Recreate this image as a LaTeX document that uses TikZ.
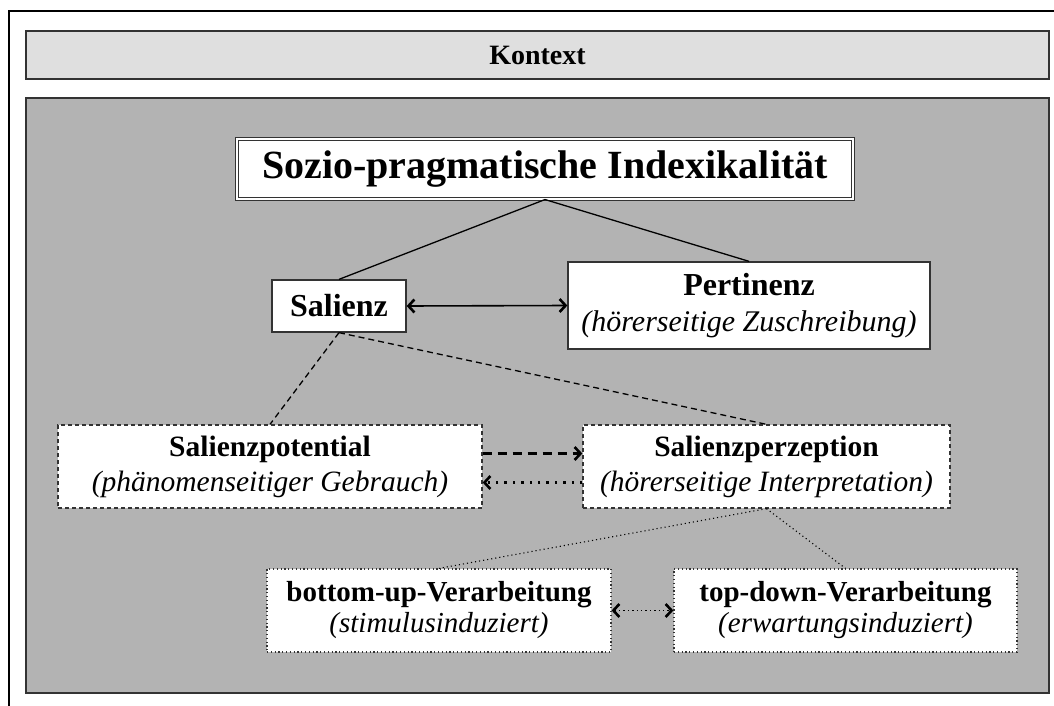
\documentclass[tikz,border=0pt]{standalone}
\usepackage{fontspec}
\setmainfont{Liberation Serif}
\usetikzlibrary{arrows.meta}
\definecolor{ctxgray}{HTML}{DFDFDF}
\definecolor{panelgray}{HTML}{B3B3B3}
\definecolor{edge}{HTML}{333333}
\tikzset{
  panel/.style={draw=edge, line width=1.5pt, inner sep=0pt},
  basebox/.style={fill=white, draw=edge, line width=1.3pt, inner sep=0pt, align=center},
  dashbox/.style={basebox, dash pattern=on 4pt off 3pt},
  dotbox/.style={basebox, line width=1.2pt, dash pattern=on 1.2pt off 2.6pt},
  solidlink/.style={line width=1.3pt},
  dashlink/.style={line width=1.3pt, dash pattern=on 6pt off 4pt},
  dotlink/.style={line width=1.1pt, dash pattern=on 1.1pt off 3pt},
  barb/.tip={Straight Barb[length=6pt,width=13pt,line width=2.6pt]},
  botharrow/.style={line width=1.6pt, barb-barb},
  dasharrow/.style={line width=2.2pt, dash pattern=on 9pt off 6pt, -barb},
  dotarrow/.style={line width=2.4pt, dash pattern=on 2.4pt off 6pt, -barb},
  smalldotarrow/.style={line width=1.4pt, dash pattern=on 1.4pt off 3pt, barb-barb},
  bigfont/.style={font=\fontsize{40}{44}\selectfont\bfseries},
  midfont/.style={font=\fontsize{32}{37}\selectfont},
  lowfont/.style={font=\fontsize{29.5}{35}\selectfont},
  botfont/.style={font=\fontsize{29}{31}\selectfont}
}
\begin{document}
\begin{tikzpicture}[x=1pt,y=-1pt]
\useasboundingbox (0,0) rectangle (1054,706);
\fill[white] (0,0) rectangle (1054,706);
\draw[line width=1.2pt] (9,706) -- (9,11) -- (1054,11);
\node[panel, fill=ctxgray, minimum width=1023pt, minimum height=48pt,
      font=\fontsize{28}{32}\selectfont\bfseries] (kontext) at (537.5,55) {Kontext};
\node[panel, fill=panelgray, minimum width=1023pt, minimum height=595pt] (panel) at (537.5,395.5) {};
\node[fill=white, draw=edge, line width=1.1pt, double=white, double distance=2.2pt,
      minimum width=616pt, minimum height=60pt, inner sep=0pt, bigfont] (title) at (545,169)
      {Sozio-pragmatische Indexikalität};
\node[basebox, minimum width=134pt, minimum height=52pt, midfont] (salienz) at (339,306) {\bfseries Salienz};
\node[basebox, minimum width=362pt, minimum height=87pt, midfont] (pertinenz) at (749,305.5)
      {\bfseries Pertinenz\\[-1pt]{\fontsize{30}{34}\selectfont\itshape (hörerseitige Zuschreibung)}};
\node[dashbox, minimum width=424pt, minimum height=83pt, lowfont] (potential) at (270,466.5)
      {\bfseries Salienzpotential\\\itshape (phänomenseitiger Gebrauch)};
\node[dashbox, minimum width=367pt, minimum height=83pt, lowfont] (perzeption) at (766.5,466.5)
      {\bfseries Salienzperzeption\\\itshape (hörerseitige Interpretation)};
\node[dotbox, minimum width=344pt, minimum height=83pt, botfont] (bottomup) at (439,610.5)
      {\bfseries bottom-up-Verarbeitung\\\itshape (stimulusinduziert)};
\node[dotbox, minimum width=343pt, minimum height=83pt, botfont] (topdown) at (845.5,610.5)
      {\bfseries top-down-Verarbeitung\\\itshape (erwartungsinduziert)};
\draw[solidlink] (title.south) -- (salienz.north);
\draw[solidlink] (title.south) -- (pertinenz.north);
\draw[botharrow] (salienz.east) -- (pertinenz.west);
\draw[dashlink] (salienz.south) -- (potential.north);
\draw[dashlink] (salienz.south) -- (perzeption.north);
\draw[dasharrow] ([yshift=13pt]potential.east) -- ([yshift=13pt]perzeption.west);
\draw[dotarrow] ([yshift=-16pt]perzeption.west) -- ([yshift=-16pt]potential.east);
\draw[dotlink] (perzeption.south) -- (bottomup.north);
\draw[dotlink] (perzeption.south) -- (topdown.north);
\draw[smalldotarrow] (bottomup.east) -- (topdown.west);
\end{tikzpicture}
\end{document}
